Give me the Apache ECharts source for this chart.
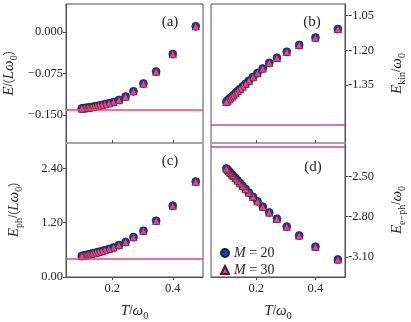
<!DOCTYPE html>
<html>
<head>
<meta charset="utf-8">
<script src="https://cdn.jsdelivr.net/npm/echarts@6/dist/echarts.min.js"></script>
<style>html,body{margin:0;padding:0;background:#fff;}#c{width:411px;height:322px;}</style>
</head>
<body>
<div id="c"></div>
<script>
// ---- data ----
const T = [0.476, 0.400, 0.345, 0.303, 0.270, 0.244, 0.222, 0.204, 0.189, 0.175, 0.164, 0.154, 0.145, 0.137, 0.130, 0.123, 0.118, 0.112, 0.108, 0.103, 0.099];
const E_M20 = [0.010, -0.040, -0.0715, -0.093, -0.107, -0.1165, -0.1225, -0.1262, -0.1285, -0.1303, -0.1318, -0.1330, -0.1340, -0.1348, -0.1355, -0.1361, -0.1365, -0.1369, -0.1372, -0.1375, -0.1378];
const E_M30 = [0.010, -0.040, -0.0715, -0.093, -0.107, -0.1165, -0.1225, -0.1262, -0.1285, -0.1303, -0.1318, -0.1330, -0.1340, -0.1348, -0.1355, -0.1361, -0.1365, -0.1369, -0.1372, -0.1375, -0.1378];
const Ekin_M20 = [-1.108, -1.145, -1.177, -1.206, -1.232, -1.254, -1.278, -1.298, -1.315, -1.331, -1.344, -1.356, -1.367, -1.376, -1.385, -1.393, -1.399, -1.406, -1.411, -1.417, -1.422];
const Ekin_M30 = [-1.108, -1.145, -1.177, -1.206, -1.232, -1.254, -1.278, -1.298, -1.315, -1.331, -1.344, -1.356, -1.367, -1.376, -1.385, -1.393, -1.399, -1.406, -1.411, -1.417, -1.422];
const Eph_M20 = [2.107, 1.576, 1.243, 1.023, 0.881, 0.775, 0.705, 0.654, 0.620, 0.592, 0.571, 0.553, 0.538, 0.524, 0.512, 0.500, 0.492, 0.482, 0.476, 0.469, 0.463];
const Eph_M30 = [2.107, 1.576, 1.243, 1.023, 0.881, 0.775, 0.705, 0.654, 0.620, 0.592, 0.571, 0.553, 0.538, 0.524, 0.512, 0.500, 0.492, 0.482, 0.476, 0.469, 0.463];
const Eeph_M20 = [-3.119, -3.024, -2.940, -2.874, -2.815, -2.768, -2.725, -2.685, -2.652, -2.620, -2.594, -2.570, -2.549, -2.530, -2.513, -2.497, -2.485, -2.471, -2.461, -2.449, -2.440];
const Eeph_M30 = [-3.119, -3.024, -2.940, -2.874, -2.815, -2.768, -2.725, -2.685, -2.652, -2.620, -2.594, -2.570, -2.549, -2.530, -2.513, -2.497, -2.485, -2.471, -2.461, -2.449, -2.440];
const refLines = [-0.142, -1.517, 0.408, -2.278]; // a, b, c, d reference levels

const xTicks = [0.2, 0.4];
const xTickLabels = ['0.2', '0.4'];
const yTicksA = [-0.15, -0.075, 0], yLabelsA = ['\u22120.150', '\u22120.075', '0.000'];
const yTicksB = [-1.35, -1.2, -1.05], yLabelsB = ['-1.35', '-1.20', '-1.05'];
const yTicksC = [0, 1.2, 2.4], yLabelsC = ['0.00', '1.20', '2.40'];
const yTicksD = [-3.1, -2.8, -2.5], yLabelsD = ['-3.10', '-2.80', '-2.50'];
const panelLabels = ['(a)', '(b)', '(c)', '(d)'];
const seriesNames = ['M20', 'M30'];
const legendLabels = ['{i|M} = 20', '{i|M} = 30'];

// ---- styling ----
const FONT = 'Liberation Serif';
const INK = '#262626';
const PINK = '#e0457b';
const BLUE = '#2f2fb5';
const TRI = '#e5477c';

function lab(ticks, labels) {
  return v => { const k = ticks.findIndex(t => Math.abs(t - v) < 1e-9); return k >= 0 ? labels[k] : ''; };
}
const nameRich = {
  i: {fontFamily: FONT, fontStyle: 'italic', fontSize: 15, color: INK, lineHeight: 20, verticalAlign: 'middle'},
  r: {fontFamily: FONT, fontSize: 15, color: INK, lineHeight: 20, verticalAlign: 'middle'},
  s: {fontFamily: FONT, fontSize: 10, color: INK, lineHeight: 20, verticalAlign: 'bottom', padding: [0, 0, 0, 0]}
};

const grids = [
  {left: 66, top: 4, width: 137, height: 139},
  {left: 211, top: 4, width: 134, height: 139},
  {left: 66, top: 143, width: 137, height: 139},
  {left: 211, top: 143, width: 134, height: 139}
].map(g => Object.assign({show: true, borderColor: '#505050', borderWidth: 1, backgroundColor: 'transparent', containLabel: false}, g));

const xAxes = [0, 1, 2, 3].map(i => {
  const bottom = i >= 2;
  return {
    gridIndex: i, type: 'value', min: 0.047, max: 0.5, z: bottom ? 2 : 6,
    axisLine: {show: true, onZero: false, lineStyle: {color: bottom ? '#505050' : '#b3b3b3', width: bottom ? 1 : 1.6}},
    axisTick: {show: true, customValues: xTicks, inside: !bottom, length: 3, lineStyle: {color: '#505050'}},
    axisLabel: {show: bottom, customValues: xTicks, formatter: lab(xTicks, xTickLabels), margin: 5,
      fontFamily: FONT, fontSize: 12.5, color: INK},
    splitLine: {show: false},
    name: bottom ? '{i|T}/{i|\u03c9}{s|0}' : '', nameLocation: 'middle', nameGap: 24,
    nameTextStyle: {rich: nameRich}
  };
});

const yCfg = [
  {min: -0.2, max: 0.05, ticks: yTicksA, labels: yLabelsA, pos: 'left', name: '{i|E}/({i|L\u03c9}{s|0})', gap: 47},
  {min: -1.6, max: -1.0, ticks: yTicksB, labels: yLabelsB, pos: 'right', name: '{i|E}{s|kin}/{i|\u03c9}{s|0}', gap: 42},
  {min: 0, max: 2.96, ticks: yTicksC, labels: yLabelsC, pos: 'left', name: '{i|E}{s|ph}/({i|L\u03c9}{s|0})', gap: 42},
  {min: -3.25, max: -2.25, ticks: yTicksD, labels: yLabelsD, pos: 'right', name: '{i|E}{s|e\u2212ph}/{i|\u03c9}{s|0}', gap: 42}
];
const yAxes = yCfg.map((c, i) => ({
  gridIndex: i, type: 'value', min: c.min, max: c.max, position: c.pos,
  axisLine: {show: true, onZero: false, lineStyle: {color: '#505050', width: 1}},
  axisTick: {show: true, customValues: c.ticks, inside: false, length: 3, lineStyle: {color: '#505050'}},
  axisLabel: {show: true, customValues: c.ticks, formatter: lab(c.ticks, c.labels), margin: 3,
    fontFamily: FONT, fontSize: 12.5, color: INK},
  splitLine: {show: false},
  name: c.name, nameLocation: 'middle', nameGap: c.gap, nameRotate: 90,
  nameTextStyle: {rich: nameRich}
}));

const panels = [[E_M20, E_M30], [Ekin_M20, Ekin_M30], [Eph_M20, Eph_M30], [Eeph_M20, Eeph_M30]];
const series = [];
panels.forEach((p, i) => {
  series.push({
    name: seriesNames[0], type: 'scatter', xAxisIndex: i, yAxisIndex: i, z: 3,
    symbol: 'circle', symbolSize: 8,
    itemStyle: {color: BLUE, borderColor: '#1a1a40', borderWidth: 0.6, opacity: 1},
    data: T.map((t, k) => [t, p[0][k]]),
    markLine: {silent: true, symbol: 'none', label: {show: false}, animation: false,
      lineStyle: {color: PINK, width: 1.5, type: 'solid'}, data: [{yAxis: refLines[i]}]}
  });
  series.push({
    name: seriesNames[1], type: 'scatter', xAxisIndex: i, yAxisIndex: i, z: 4,
    symbol: 'triangle', symbolSize: 7.5,
    itemStyle: {color: TRI, borderColor: '#3a2030', borderWidth: 0.6, opacity: 1},
    data: T.map((t, k) => [t, p[1][k]])
  });
});

const panelPos = [[170, 22], [312, 22], [170, 161], [313, 167]];
const graphic = panelLabels.map((s, i) => ({
  type: 'text', x: panelPos[i][0], y: panelPos[i][1], z: 10,
  style: {text: s, font: '15px "' + FONT + '"', fill: INK, textAlign: 'center', textVerticalAlign: 'middle'}
}));

const chart = echarts.init(document.getElementById('c'), null, {renderer: 'canvas'});
chart.setOption({
  animation: false,
  backgroundColor: '#ffffff',
  grid: grids, xAxis: xAxes, yAxis: yAxes, series: series, graphic: graphic,
  legend: {
    data: seriesNames, left: 215, top: 241, orient: 'vertical', itemGap: 3,
    itemWidth: 8, itemHeight: 8,
    formatter: n => legendLabels[seriesNames.indexOf(n)],
    textStyle: {fontFamily: FONT, fontSize: 14, color: INK, padding: [0, 0, 0, 0],
      rich: {i: {fontFamily: FONT, fontStyle: 'italic', fontSize: 14, color: INK}}}
  }
});
</script>
</body>
</html>
